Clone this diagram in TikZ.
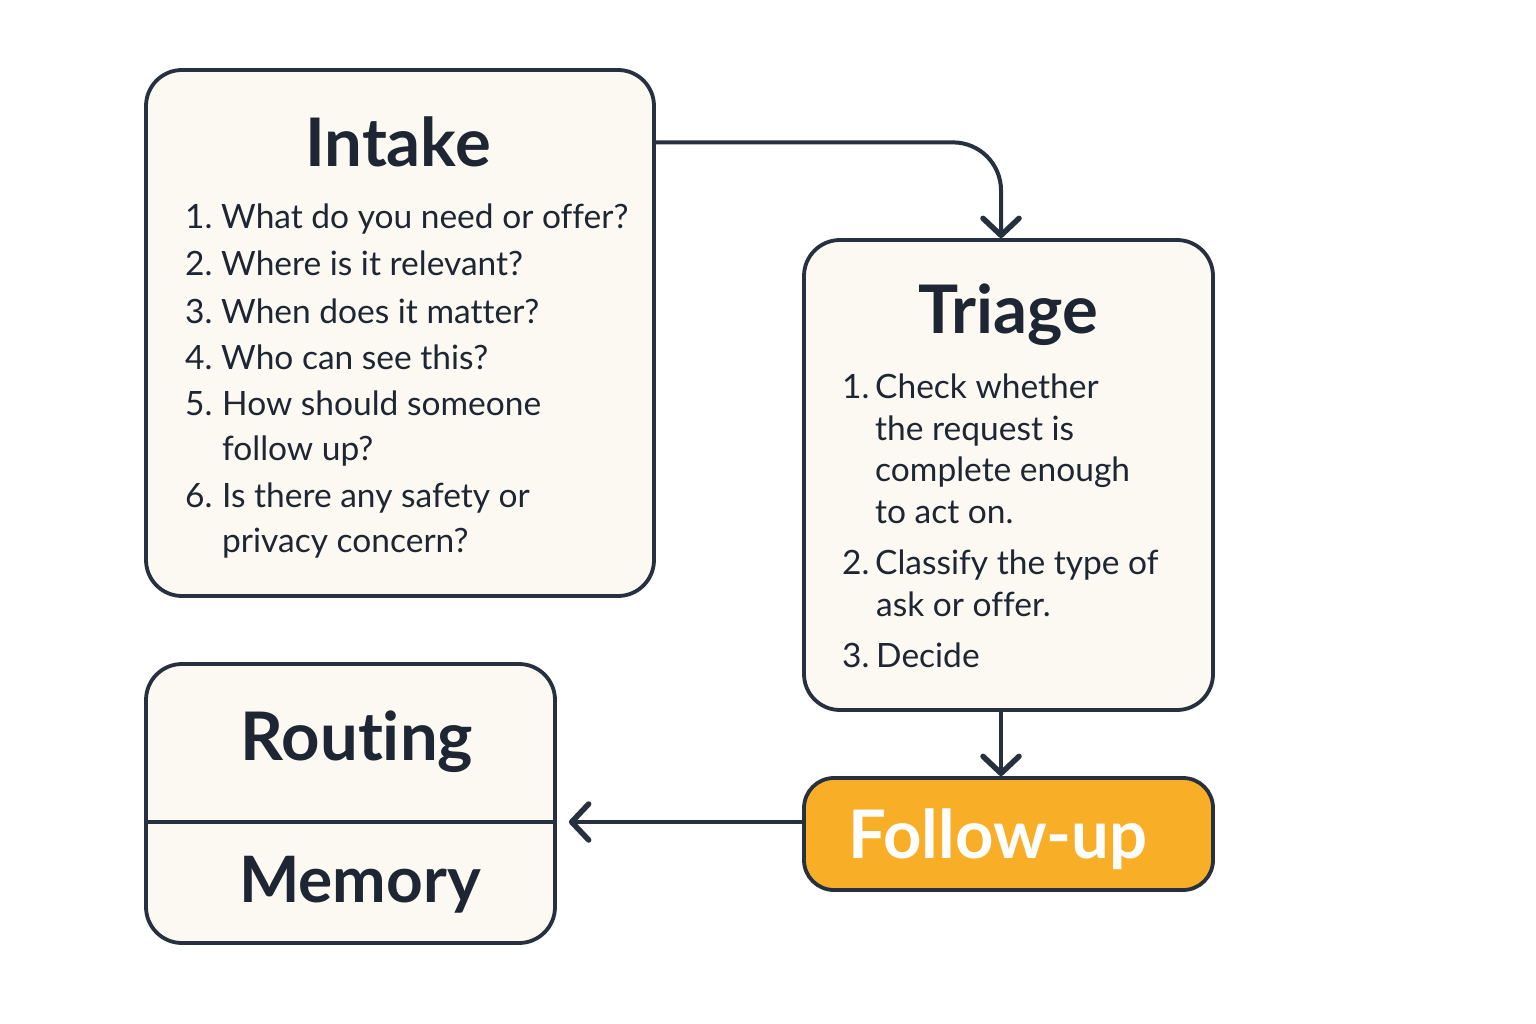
\documentclass[tikz,border=0pt]{standalone}
\usepackage{fontspec}
\setmainfont{Lato}[Ligatures=NoCommon]
\usetikzlibrary{arrows.meta,calc}
\definecolor{ink}{HTML}{26303E}
\definecolor{txt}{HTML}{1E2633}
\definecolor{cream}{HTML}{FBF9F2}
\definecolor{amber}{HTML}{F8AF27}
\begin{document}
\begin{tikzpicture}[x=1pt,y=-1pt,
  box/.style={draw=ink, line width=3.8pt, fill=cream, rounded corners=36pt, inner sep=0pt},
  ttl/.style={anchor=base, font=\fontsize{67}{80}\selectfont\bfseries, text=txt, inner sep=0pt},
  itm/.style={anchor=base west, font=\fontsize{33.5}{45}\selectfont, text=txt, inner sep=0pt},
  conn/.style={draw=ink, line width=4pt, line cap=round, line join=round, -{Straight Barb[length=17pt,width=36pt,line width=5.5pt, round]}}]
\useasboundingbox (0,0) rectangle (1536,1024);
\fill[white] (0,0) rectangle (1536,1024);
% boxes
\node[box, minimum width=508pt, minimum height=526pt] (intake) at (400,333) {};
\node[box, minimum width=409pt, minimum height=470pt] (triage) at (1008.5,475) {};
\node[box, fill=amber, rounded corners=30pt, minimum width=409pt, minimum height=112pt] (follow) at (1008.5,834) {};
\node[box, minimum width=409pt, minimum height=279pt] (rm) at (350.5,803.5) {};
\coordinate (divl) at (146,822);
\draw[ink, line width=3.8pt] (divl) -- (divl -| rm.east);
% titles
\node[ttl] (ititle) at (398,167) {Intake};
\node[ttl] (ttitle) at (1008,333) {Triage};
\node[ttl] (rtitle) at (357,760) {Routing};
\node[ttl, font=\fontsize{64}{80}\selectfont\bfseries] (mtitle) at (360,902) {Memory};
\node[ttl, text=white] (ftitle) at (998,858) {Follow-up};
% intake list
\node[itm] (in1) at (185,229) {1.};
\node[itm] (it1) at (221,229) {What do you need or offer?};
\node[itm] (in2) at (185,276) {2.};
\node[itm] (it2) at (221,276) {Where is it relevant?};
\node[itm] (in3) at (185,323) {3.};
\node[itm] (it3) at (221,323) {When does it matter?};
\node[itm] (in4) at (185,369) {4.};
\node[itm] (it4) at (221,369) {Who can see this?};
\node[itm] (in5) at (185,415) {5.};
\node[itm] (it5a) at (222,415) {How should someone};
\node[itm] (it5b) at (222,460) {follow up?};
\node[itm] (in6) at (185,507) {6.};
\node[itm] (it6a) at (222,507) {Is there any safety or};
\node[itm] (it6b) at (222,552) {privacy concern?};
% triage list
\node[itm] (tn1) at (842,398) {1.};
\node[itm] (tt1a) at (875,398) {Check whether};
\node[itm] (tt1b) at (875,440) {the request is};
\node[itm] (tt1c) at (875,481) {complete enough};
\node[itm] (tt1d) at (875,523) {to act on.};
\node[itm] (tn2) at (842,574) {2.};
\node[itm] (tt2a) at (875,574) {Classify the type of};
\node[itm] (tt2b) at (876,616) {ask or offer.};
\node[itm] (tn3) at (842,667) {3.};
\node[itm] (tt3) at (876,667) {Decide};
% connectors
\draw[conn, rounded corners=48pt] (intake.east |- ititle.center) -| ([xshift=-7.5pt]triage.north);
\draw[conn] ([xshift=-7.5pt]triage.south) -- ([xshift=-7.5pt]follow.north);
\draw[conn] ([yshift=12pt]follow.west) -- ([xshift=12pt]divl -| rm.east);
\end{tikzpicture}
\end{document}
